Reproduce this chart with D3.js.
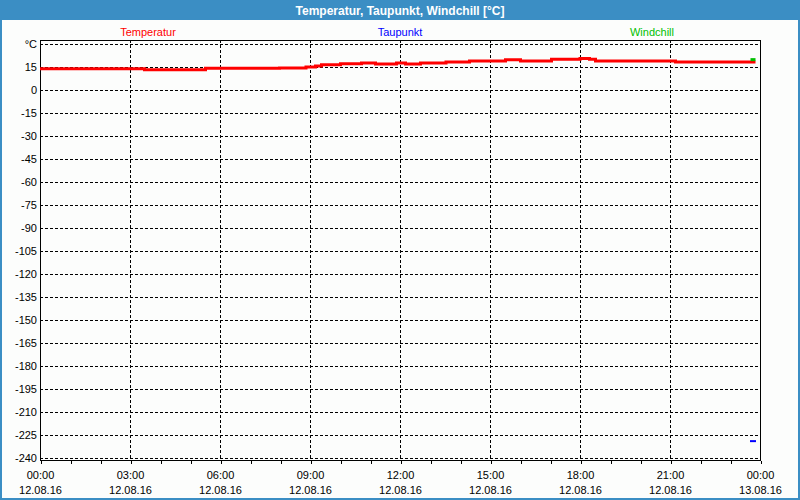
<!DOCTYPE html>
<html>
<head>
<meta charset="utf-8">
<script src="https://cdn.jsdelivr.net/npm/d3@7"></script>
<style>
html,body{margin:0;padding:0;background:#fcfdfc;}
svg{display:block;}
</style>
</head>
<body>
<script>
// ---- Data ----
const title = "Temperatur, Taupunkt, Windchill [°C]";
const seriesNames = ["Temperatur", "Taupunkt", "Windchill"];
const seriesColors = ["#ff0000", "#0000ff", "#00c000"];

const tempTimes = ["00:00","03:29","05:31","07:59","08:52","09:11","09:23","10:01","10:43","11:11","11:53","12:11","12:41","13:32","14:19","15:31","16:01","17:03","18:00","18:19","18:31","21:11","23:51"];
const tempValues = [13.9,13.2,14.1,14.4,15.0,15.6,16.4,17.1,17.6,17.0,17.6,17.0,17.6,18.3,18.9,19.8,18.9,20.0,20.6,20.0,18.9,18.3,18.3];

const dewTimes = ["23:40","23:52"];
const dewValues = [-229,-229];

const chillTimes = ["23:41","23:51"];
const chillValues = [19.8,19.8];

const yTickValues = [30,15,0,-15,-30,-45,-60,-75,-90,-105,-120,-135,-150,-165,-180,-195,-210,-225,-240];
const yTopLabel = "°C";
const xStart = "2016-08-12T00:00";
const xEnd = "2016-08-13T00:00";

// ---- Layout ----
const W = 800, H = 500;
const plot = {left: 40, right: 760, top: 40, bottom: 460};
const FONT = "'Liberation Sans', Arial, sans-serif";

const parseDT = d3.timeParse("%Y-%m-%dT%H:%M");
const t0 = parseDT(xStart), t1 = parseDT(xEnd);
const toDate = s => parseDT("2016-08-12T" + s);

const x = d3.scaleTime().domain([t0, t1]).range([plot.left, plot.right]);
const y = d3.scaleLinear().domain([-241.3, 32.6]).range([plot.bottom, plot.top]);
const px = v => Math.round(v) + 0.5;

const svg = d3.select("body").append("svg").attr("width", W).attr("height", H);

// window frame
svg.append("rect").attr("x",0).attr("y",0).attr("width",W).attr("height",H).attr("fill","#3b8ec4");
svg.append("rect").attr("x",2).attr("y",20).attr("width",W-4).attr("height",H-22).attr("fill","#fcfdfc");

svg.append("text").attr("x", W/2).attr("y", 15).attr("text-anchor","middle")
  .attr("font-family", FONT).attr("font-size", 12).attr("font-weight","bold").attr("fill","#ffffff")
  .text(title);

// legend labels
const legendX = [148, 400, 652];
seriesNames.forEach((n,i) => {
  svg.append("text").attr("x", legendX[i]).attr("y", 36).attr("text-anchor","middle")
    .attr("font-family", FONT).attr("font-size", 11).attr("fill", seriesColors[i]).text(n);
});

// grid
const grid = svg.append("g").attr("stroke","#000").attr("stroke-width",1).attr("stroke-dasharray","3,2").attr("shape-rendering","crispEdges");
yTickValues.forEach(v => {
  grid.append("line").attr("x1", plot.left).attr("x2", plot.right).attr("y1", px(y(v))).attr("y2", px(y(v)));
});
const majorTicks = d3.timeHour.every(3).range(t0, d3.timeHour.offset(t1, 1));
majorTicks.filter(d => +d > +t0 && +d < +t1).forEach(d => {
  grid.append("line").attr("x1", px(x(d))).attr("x2", px(x(d))).attr("y1", plot.top).attr("y2", plot.bottom);
});

// y labels
const yLab = svg.append("g").attr("font-family", FONT).attr("font-size", 11).attr("fill","#000");
yTickValues.forEach((v,i) => {
  yLab.append("text").attr("x", 37).attr("y", y(v)).attr("dy","0.35em").attr("text-anchor","end")
    .text(i === 0 ? yTopLabel : v);
});

// x axis
const xAxis = d3.axisBottom(x).ticks(d3.timeHour.every(1)).tickSize(3).tickFormat("");
const gx = svg.append("g").attr("transform", `translate(0.5,${plot.bottom + 0.5})`).call(xAxis);
gx.select(".domain").remove();
gx.selectAll("line").attr("stroke","#000").attr("shape-rendering","crispEdges");

const fmtT = d3.timeFormat("%H:%M"), fmtD = d3.timeFormat("%d.%m.%y");
const xLab = svg.append("g").attr("font-family", FONT).attr("font-size", 11).attr("fill","#000").attr("text-anchor","middle");
majorTicks.forEach(d => {
  xLab.append("text").attr("x", x(d)+0.5).attr("y", 479).text(fmtT(d));
  xLab.append("text").attr("x", x(d)+0.5).attr("y", 494).text(fmtD(d));
});

// border
svg.append("rect").attr("x", plot.left+0.5).attr("y", plot.top+0.5)
  .attr("width", plot.right-plot.left).attr("height", plot.bottom-plot.top)
  .attr("fill","none").attr("stroke","#000").attr("stroke-width",1).attr("shape-rendering","crispEdges");

// series
const line = d3.line().x(d => x(d.t)).y(d => y(d.v)).curve(d3.curveStepAfter);
function series(times, values, color, width) {
  const data = times.map((t,i) => ({t: toDate(t), v: values[i]}));
  svg.append("path").datum(data).attr("d", line).attr("fill","none")
    .attr("stroke", color).attr("stroke-width", width);
}
series(tempTimes, tempValues, seriesColors[0], 3);
series(dewTimes, dewValues, seriesColors[1], 2);
series(chillTimes, chillValues, seriesColors[2], 3);
</script>
</body>
</html>
